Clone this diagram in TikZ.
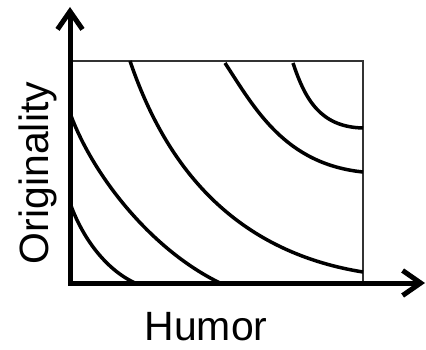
\documentclass[tikz,border=0pt]{standalone}
\usepackage{fontspec}
\setmainfont{Liberation Sans}
\usetikzlibrary{arrows.meta}

\begin{document}
\begin{tikzpicture}[
    x=0.02cm, y=0.02cm,
    axis/.style={line width=0.1cm, line join=miter, {Straight Barb[length=0.36cm, width=0.5cm]}-{Straight Barb[length=0.36cm, width=0.5cm]}},
    frame/.style={line width=0.03cm, draw=black!80},
    contour/.style={line width=0.07cm},
    label/.style={font=\fontsize{23.3}{28}\selectfont, inner sep=0pt}
]
\useasboundingbox (0,0) rectangle (426,349);

% === AXES ===
\coordinate (origin) at (70,66);
\coordinate (ytip) at (70,342);
\coordinate (xtip) at (425,66);
\coordinate (corner) at (363,288);

\draw[frame] (origin |- corner) -- (corner) -- (corner |- origin);
\draw[axis] (ytip) -- (origin) -- (xtip);

\node[label, anchor=base] (humor) at (206,9) {Humor};
\node[label, anchor=base, rotate=90] (orig) at (48,176) {Originality};

% === CONTOURS ===
\draw[contour] (70,146) .. controls (82,112) and (105,80) .. (135,66);
\draw[contour] (70,236) .. controls (92,175) and (150,100) .. (220,66);
\draw[contour] (130,288) .. controls (160,200) and (220,100) .. (363,77);
\draw[contour] (225,286) .. controls (255,240) and (285,185) .. (363,177);
\draw[contour] (293,286) .. controls (305,250) and (320,222) .. (363,221);

\end{tikzpicture}
\end{document}
